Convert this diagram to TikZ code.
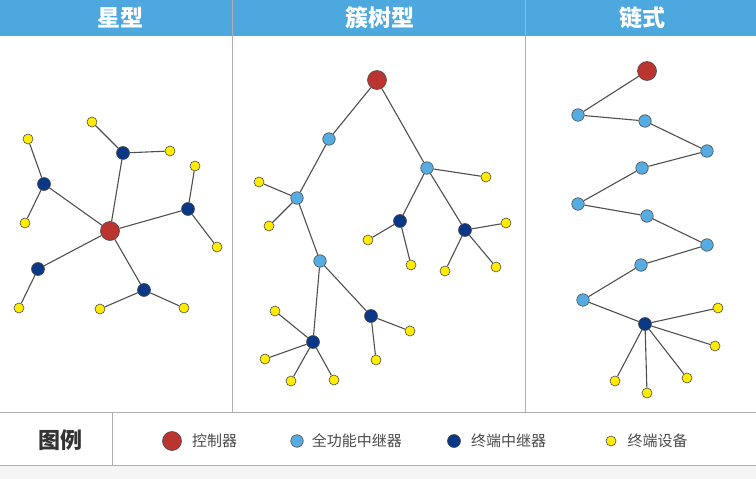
\documentclass[tikz,border=0pt]{standalone}
\usepackage{fontspec}
\setmainfont{Noto Sans CJK SC}
\usetikzlibrary{positioning}
\definecolor{hdrblue}{RGB}{77,168,223}
\definecolor{ctrlred}{RGB}{186,52,48}
\definecolor{fullblue}{RGB}{86,172,224}
\definecolor{termblue}{RGB}{10,56,134}
\definecolor{devyellow}{RGB}{255,236,0}
\definecolor{linkgray}{RGB}{80,80,80}
\definecolor{framegray}{RGB}{175,175,175}
\tikzset{
  ctrl/.style={circle,draw=black!70,fill=ctrlred,minimum size=19pt,inner sep=0pt,line width=0.6pt},
  fullrelay/.style={circle,draw=black!70,fill=fullblue,minimum size=12.5pt,inner sep=0pt,line width=0.6pt},
  termrelay/.style={circle,draw=black!70,fill=termblue,minimum size=13pt,inner sep=0pt,line width=0.6pt},
  device/.style={circle,draw=black!70,fill=devyellow,minimum size=10pt,inner sep=0pt,line width=0.6pt},
  link/.style={draw=linkgray,line width=1.1pt},
  frame/.style={draw=framegray,line width=1pt},
  title/.style={text=white,font=\fontsize{23}{23}\selectfont\bfseries},
  keytext/.style={text=black!70,font=\fontsize{15}{15}\selectfont,inner sep=1pt}
}
\begin{document}
\begin{tikzpicture}[x=1pt,y=-1pt]
  \useasboundingbox (0,0) rectangle (756,479);
  \fill[white] (0,0) rectangle (756,479);
  \fill[black!4] (0,465) rectangle (756,479);
  \fill[hdrblue] (0,0) rectangle (756,36);
  \draw[frame] (232,0) -- (232,412) (525,0) -- (525,412);
  \draw[frame] (0,412) -- (756,412) (0,465) -- (756,465) (112,412) -- (112,465);
  \node[title] (h1) at (120,18) {星型};
  \node[title] (h2) at (380,18) {簇树型};
  \node[title] (h3) at (642,18) {链式};
  % star
  \node[ctrl] (sc) at (110,231) {};
  \node[termrelay] (sa) at (44,184) {};
  \node[termrelay] (sb) at (123,153) {};
  \node[termrelay] (sd) at (188,209) {};
  \node[termrelay] (se) at (144,290) {};
  \node[termrelay] (sf) at (38,269) {};
  \node[device] (sa1) at (28,139) {};
  \node[device] (sa2) at (25,223) {};
  \node[device] (sb1) at (92,122) {};
  \node[device] (sb2) at (170,151) {};
  \node[device] (sd1) at (195,166) {};
  \node[device] (sd2) at (217,247) {};
  \node[device] (se1) at (100,309) {};
  \node[device] (se2) at (184,308) {};
  \node[device] (sf1) at (19,308) {};
  \path[link]
    (sc) edge (sa) edge (sb) edge (sd) edge (se) edge (sf)
    (sa) edge (sa1) edge (sa2)
    (sb) edge (sb1) edge (sb2)
    (sd) edge (sd1) edge (sd2)
    (se) edge (se1) edge (se2)
    (sf) edge (sf1);
  % cluster tree
  \node[ctrl] (tr) at (377,80) {};
  \node[fullrelay] (tl1) at (329,139) {};
  \node[fullrelay] (tl2) at (297,198) {};
  \node[fullrelay] (tl3) at (320,261) {};
  \node[fullrelay] (tr1) at (427,168) {};
  \node[termrelay] (tn1) at (313,342) {};
  \node[termrelay] (tn2) at (371,316) {};
  \node[termrelay] (tn3) at (400,221) {};
  \node[termrelay] (tn4) at (465,230) {};
  \node[device] (tl2a) at (259,182) {};
  \node[device] (tl2b) at (269,226) {};
  \node[device] (tn1a) at (275,311) {};
  \node[device] (tn1b) at (265,359) {};
  \node[device] (tn1c) at (291,381) {};
  \node[device] (tn1d) at (334,380) {};
  \node[device] (tn2a) at (410,331) {};
  \node[device] (tn2b) at (376,360) {};
  \node[device] (tr1a) at (486,177) {};
  \node[device] (tn3a) at (368,240) {};
  \node[device] (tn3b) at (411,265) {};
  \node[device] (tn4a) at (506,223) {};
  \node[device] (tn4b) at (445,271) {};
  \node[device] (tn4c) at (496,267) {};
  \path[link]
    (tr) edge (tl1) edge (tr1)
    (tl1) edge (tl2)
    (tl2) edge (tl2a) edge (tl2b) edge (tl3)
    (tl3) edge (tn1) edge (tn2)
    (tn1) edge (tn1a) edge (tn1b) edge (tn1c) edge (tn1d)
    (tn2) edge (tn2a) edge (tn2b)
    (tr1) edge (tr1a) edge (tn3) edge (tn4)
    (tn3) edge (tn3a) edge (tn3b)
    (tn4) edge (tn4a) edge (tn4b) edge (tn4c);
  % chain
  \node[ctrl] (cr) at (647,71) {};
  \node[fullrelay] (c1) at (578,115) {};
  \node[fullrelay] (c2) at (645,121) {};
  \node[fullrelay] (c3) at (707,151) {};
  \node[fullrelay] (c4) at (642,168) {};
  \node[fullrelay] (c5) at (578,204) {};
  \node[fullrelay] (c6) at (647,216) {};
  \node[fullrelay] (c7) at (707,245) {};
  \node[fullrelay] (c8) at (641,265) {};
  \node[fullrelay] (c9) at (583,300) {};
  \node[termrelay] (ct) at (645,324) {};
  \node[device] (ct1) at (718,308) {};
  \node[device] (ct2) at (715,346) {};
  \node[device] (ct3) at (687,378) {};
  \node[device] (ct4) at (647,393) {};
  \node[device] (ct5) at (615,381) {};
  \path[link]
    (cr) edge (c1) (c1) edge (c2) (c2) edge (c3) (c3) edge (c4) (c4) edge (c5)
    (c5) edge (c6) (c6) edge (c7) (c7) edge (c8) (c8) edge (c9) (c9) edge (ct)
    (ct) edge (ct1) edge (ct2) edge (ct3) edge (ct4) edge (ct5);
  % legend
  \node[text=black!80,font=\fontsize{22}{22}\selectfont\bfseries] (key) at (60,440) {图例};
  \node[ctrl] (kc) at (172,441) {};
  \node[keytext,right=9pt of kc] (kct) {控制器};
  \node[fullrelay] (kf) at (297,441) {};
  \node[keytext,right=7pt of kf] (kft) {全功能中继器};
  \node[termrelay] (kt) at (454,441) {};
  \node[keytext,right=9pt of kt] (ktt) {终端中继器};
  \node[device] (kd) at (611,441) {};
  \node[keytext,right=10pt of kd] (kdt) {终端设备};
\end{tikzpicture}
\end{document}
